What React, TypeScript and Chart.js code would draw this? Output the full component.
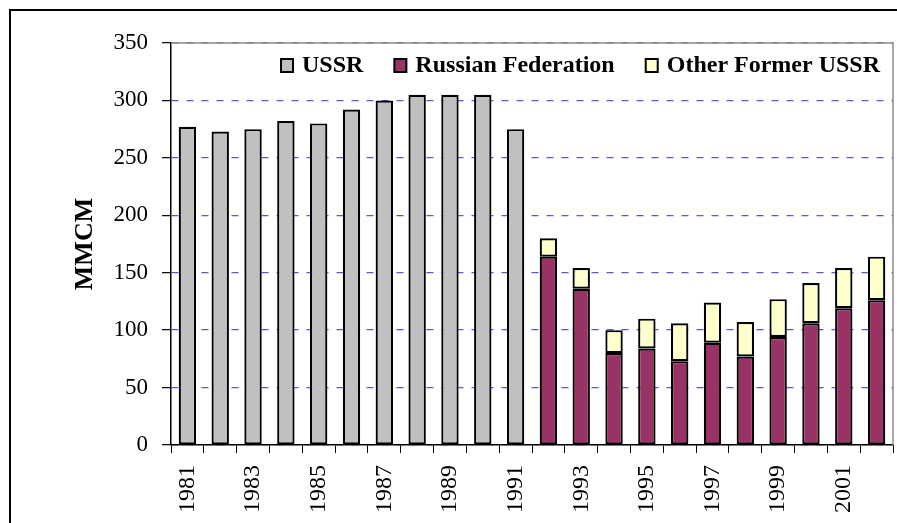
import React, { useEffect, useRef } from "react";
import { Chart, registerables } from "chart.js";

Chart.register(...registerables);

const years = [
  "1981", "1982", "1983", "1984", "1985", "1986", "1987", "1988", "1989", "1990", "1991",
  "1992", "1993", "1994", "1995", "1996", "1997", "1998", "1999", "2000", "2001", "2002",
];

const ussr = [277, 273, 275, 282, 280, 292, 300, 305, 305, 305, 275,
  null, null, null, null, null, null, null, null, null, null, null];

const russianFederation = [null, null, null, null, null, null, null, null, null, null, null,
  164, 136, 80, 84, 73, 89, 77, 94, 106, 119, 126];

const otherFormerUssr = [null, null, null, null, null, null, null, null, null, null, null,
  16, 18, 20, 26, 33, 35, 30, 33, 35, 35, 38];

const yTicks = [0, 50, 100, 150, 200, 250, 300, 350];

const seriesNames = ["USSR", "Russian Federation", "Other Former USSR"];
const seriesColors = ["#c0c0c0", "#993366", "#ffffcc"];

const SERIF = "'Liberation Serif', 'Times New Roman', serif";

const plotFrame = {
  id: "plotFrame",
  beforeDatasetsDraw(chart: any) {
    const { ctx, chartArea } = chart;
    ctx.save();
    ctx.strokeStyle = "#8a8a8a";
    ctx.lineWidth = 1.5;
    ctx.beginPath();
    ctx.moveTo(chartArea.left, chartArea.top);
    ctx.lineTo(chartArea.right, chartArea.top);
    ctx.lineTo(chartArea.right, chartArea.bottom);
    ctx.stroke();
    ctx.restore();
  },
};

const insideLegend = {
  id: "insideLegend",
  afterDraw(chart: any) {
    const { ctx } = chart;
    const datasets = chart.data.datasets;
    ctx.save();
    ctx.font = `bold 24px ${SERIF}`;
    ctx.textBaseline = "alphabetic";
    ctx.textAlign = "left";
    const box = 12;
    const boxGap = 9;
    const itemGap = 31;
    const widths = datasets.map((d: any) => ctx.measureText(d.label).width);
    let total = 0;
    widths.forEach((w: number, i: number) => {
      total += box + boxGap + w + (i < widths.length - 1 ? itemGap : 0);
    });
    let x = 880 - total;
    const baseY = 72;
    datasets.forEach((d: any, i: number) => {
      ctx.fillStyle = d.backgroundColor;
      ctx.fillRect(x, baseY - 13, box, 13);
      ctx.strokeStyle = "#000";
      ctx.lineWidth = 2;
      ctx.strokeRect(x, baseY - 13, box, 13);
      x += box + boxGap;
      ctx.fillStyle = "#000";
      ctx.fillText(d.label, x, baseY);
      x += widths[i] + itemGap;
    });
    ctx.restore();
  },
};

export default function App() {
  const canvasRef = useRef<HTMLCanvasElement | null>(null);

  useEffect(() => {
    if (!canvasRef.current) return;
    const mk = (i: number, data: (number | null)[]) => ({
      label: seriesNames[i],
      data,
      backgroundColor: seriesColors[i],
      borderColor: "#000000",
      borderWidth: (c: any) => (c.raw == null ? 0 : 2.2),
      borderSkipped: false,
      barPercentage: 0.53,
      categoryPercentage: 1,
    });
    const chart = new Chart(canvasRef.current, {
      type: "bar",
      data: {
        labels: years,
        datasets: [mk(0, ussr), mk(1, russianFederation), mk(2, otherFormerUssr)],
      },
      plugins: [plotFrame, insideLegend],
      options: {
        animation: false,
        responsive: true,
        maintainAspectRatio: false,
        layout: { padding: { left: 0, top: 43, right: 4, bottom: 0 } },
        plugins: {
          legend: { display: false },
          tooltip: { enabled: false },
        },
        scales: {
          x: {
            stacked: true,
            offset: true,
            grid: {
              offset: true,
              drawOnChartArea: false,
              drawTicks: true,
              tickLength: 8,
              color: "#000000",
              tickColor: "#000000",
              lineWidth: 1,
            },
            border: { display: true, color: "#000000", width: 1.5 },
            ticks: {
              autoSkip: false,
              maxRotation: 90,
              minRotation: 90,
              padding: 12,
              color: "#000000",
              font: { family: SERIF, size: 24 },
              callback: (_v: any, i: number) => (i % 2 === 0 ? years[i] : ""),
            },
            afterFit: (scale: any) => {
              scale.height = 78;
              scale.paddingLeft = 0;
              scale.paddingRight = 0;
            },
          },
          y: {
            stacked: true,
            min: 0,
            max: 350,
            afterBuildTicks: (scale: any) => {
              scale.ticks = yTicks.map((v) => ({ value: v }));
            },
            grid: {
              color: "#5c5cc0",
              lineWidth: 1.3,
              tickLength: 9,
              tickColor: "#000000",
              tickWidth: 1.2,
              tickBorderDash: [],
            } as any,
            border: { display: true, color: "#000000", width: 1.5, dash: [7, 8] },
            ticks: {
              padding: 14,
              color: "#000000",
              font: { family: SERIF, size: 23 },
            },
            title: {
              display: true,
              text: "MMCM",
              color: "#000000",
              font: { family: SERIF, size: 26, weight: "bold" },
              padding: { top: 70, bottom: 0 },
            },
            afterFit: (scale: any) => {
              scale.width = 171;
              scale.paddingTop = 0;
              scale.paddingBottom = 0;
            },
          },
        },
      } as any,
    });
    return () => chart.destroy();
  }, []);

  return (
    <div
      style={{
        position: "fixed",
        left: 0,
        top: 0,
        width: 897,
        height: 523,
        background: "#ffffff",
        overflow: "hidden",
      }}
    >
      <div
        style={{
          position: "absolute",
          left: 9,
          top: 9,
          width: 2000,
          height: 2000,
          borderTop: "2px solid #000",
          borderLeft: "2px solid #000",
        }}
      />
      <div style={{ position: "absolute", left: 0, top: 0, width: 897, height: 523 }}>
        <canvas ref={canvasRef} />
      </div>
    </div>
  );
}
